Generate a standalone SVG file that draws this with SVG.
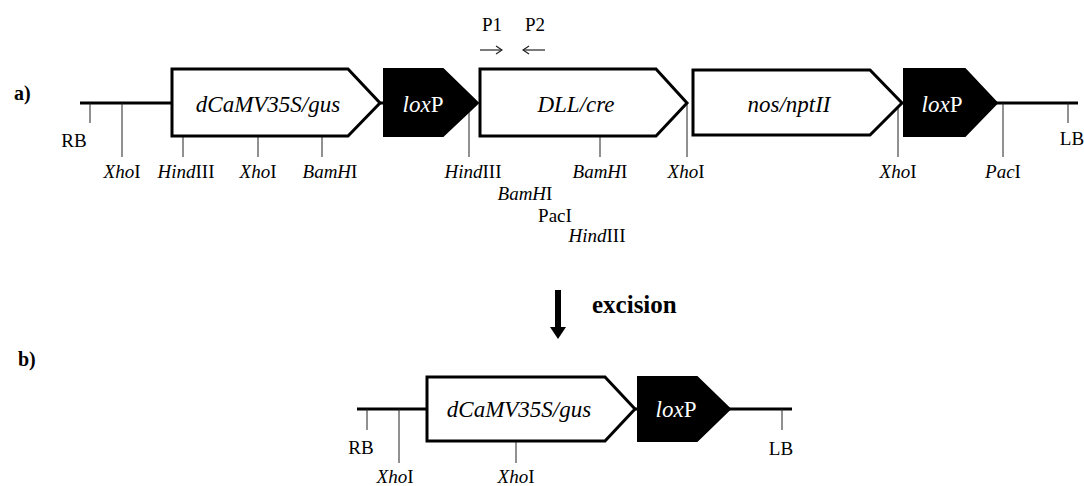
<svg xmlns="http://www.w3.org/2000/svg" width="1084" height="486" viewBox="0 0 1084 486">
<style>
text{font-family:"Liberation Serif","Times New Roman",serif;fill:#000}
.lab{font-size:19px;text-anchor:middle}
.big{font-size:23px;font-style:italic;text-anchor:middle}
.lox{font-size:23px;text-anchor:middle;fill:#fff}
.i{font-style:italic}
.box{fill:#fff;stroke:#000;stroke-width:3;stroke-linejoin:miter}
.blk{fill:#000;stroke:#000;stroke-width:2}
.bb{stroke:#000;stroke-width:3;fill:none}
.tk{stroke:#222;stroke-width:1;fill:none}
.pr{stroke:#222;stroke-width:1.2;fill:none}
.hd{font-size:20px;font-weight:bold}
</style>
<defs>
<marker id="oa" viewBox="0 0 10 10" refX="9" refY="5" markerWidth="10" markerHeight="10" orient="auto" markerUnits="userSpaceOnUse">
<path d="M3,1 L9,5 L3,9" fill="none" stroke="#222" stroke-width="1.2"/>
</marker>
</defs>

<text class="hd" x="14" y="100">a)</text>
<text class="hd" x="18" y="366">b)</text>

<g id="connectors">
<line class="bb" x1="80" y1="103" x2="172" y2="103"/>
<line class="bb" x1="378" y1="103" x2="386" y2="103"/>
<line class="bb" x1="995" y1="103" x2="1078" y2="103"/>
<line class="tk" x1="90" y1="103" x2="90" y2="123"/>
<line class="tk" x1="122" y1="103" x2="122" y2="157"/>
<line class="tk" x1="183" y1="136" x2="183" y2="157"/>
<line class="tk" x1="258" y1="136" x2="258" y2="157"/>
<line class="tk" x1="322" y1="136" x2="322" y2="157"/>
<line class="tk" x1="469" y1="112" x2="469" y2="157"/>
<line class="tk" x1="600" y1="136" x2="600" y2="157"/>
<line class="tk" x1="687" y1="104" x2="687" y2="157"/>
<line class="tk" x1="898" y1="108" x2="898" y2="157"/>
<line class="tk" x1="1003" y1="103" x2="1003" y2="157"/>
<line class="tk" x1="1068" y1="103" x2="1068" y2="123"/>
<line class="pr" x1="480" y1="50" x2="502" y2="50" marker-end="url(#oa)"/>
<line class="pr" x1="545" y1="50" x2="523" y2="50" marker-end="url(#oa)"/>
<rect x="555" y="290" width="6" height="38" fill="#000"/>
<polygon points="550,327 566,327 558,339" fill="#000"/>
<line class="bb" x1="357" y1="409" x2="427" y2="409"/>
<line class="bb" x1="633" y1="409" x2="640" y2="409"/>
<line class="bb" x1="728" y1="409" x2="792" y2="409"/>
<line class="tk" x1="367" y1="409" x2="367" y2="430"/>
<line class="tk" x1="399" y1="409" x2="399" y2="463"/>
<line class="tk" x1="516" y1="442" x2="516" y2="463"/>
<line class="tk" x1="782" y1="409" x2="782" y2="430"/>
</g>

<g id="gus-a">
<polygon class="box" points="172,69 348,69 380,103 348,136 172,136"/>
<text class="big" x="268" y="112">dCaMV35S/gus</text>
</g>
<g id="loxP-a1">
<polygon class="blk" points="384,69 443,69 478,103 443,136 384,136"/>
<text class="lox" x="423" y="112"><tspan class="i">lox</tspan>P</text>
</g>
<g id="cre-a">
<polygon class="box" points="480,69 656,69 687,103 656,136 480,136"/>
<text class="big" x="576" y="112">DLL/cre</text>
</g>
<g id="npt-a">
<polygon class="box" points="693,70 870,70 902,103 870,135 693,135"/>
<text class="big" x="789" y="112">nos/nptII</text>
</g>
<g id="loxP-a2">
<polygon class="blk" points="904,69 965,69 997,103 965,136 904,136"/>
<text class="lox" x="942" y="112"><tspan class="i">lox</tspan>P</text>
</g>

<g id="labels-a">
<text class="lab" x="74" y="147">RB</text>
<text class="lab" x="122" y="178"><tspan class="i">Xho</tspan>I</text>
<text class="lab" x="186" y="178"><tspan class="i">Hind</tspan>III</text>
<text class="lab" x="258" y="178"><tspan class="i">Xho</tspan>I</text>
<text class="lab" x="330" y="178"><tspan class="i">BamH</tspan>I</text>
<text class="lab" x="473" y="178"><tspan class="i">Hind</tspan>III</text>
<text class="lab" x="525" y="200"><tspan class="i">BamH</tspan>I</text>
<text class="lab" x="555" y="222">PacI</text>
<text class="lab" x="597" y="242"><tspan class="i">Hind</tspan>III</text>
<text class="lab" x="600" y="178"><tspan class="i">BamH</tspan>I</text>
<text class="lab" x="686" y="178"><tspan class="i">Xho</tspan>I</text>
<text class="lab" x="898" y="178"><tspan class="i">Xho</tspan>I</text>
<text class="lab" x="1003" y="178"><tspan class="i">Pac</tspan>I</text>
<text class="lab" x="1072" y="145">LB</text>
<text class="lab" x="492" y="31">P1</text>
<text class="lab" x="535" y="31">P2</text>
</g>

<g id="excision">
<text x="592" y="313" style="font-size:25px;font-weight:bold">excision</text>
</g>

<g id="gus-b">
<polygon class="box" points="427,377 605,377 635,409 605,441 427,441"/>
<text class="big" x="519" y="417">dCaMV35S/gus</text>
</g>
<g id="loxP-b">
<polygon class="blk" points="638,377 697,377 730,409 697,441 638,441"/>
<text class="lox" x="676" y="417"><tspan class="i">lox</tspan>P</text>
</g>
<g id="labels-b">
<text class="lab" x="361" y="454">RB</text>
<text class="lab" x="781" y="455">LB</text>
<text class="lab" x="395" y="483"><tspan class="i">Xho</tspan>I</text>
<text class="lab" x="516" y="483"><tspan class="i">Xho</tspan>I</text>
</g>
</svg>
